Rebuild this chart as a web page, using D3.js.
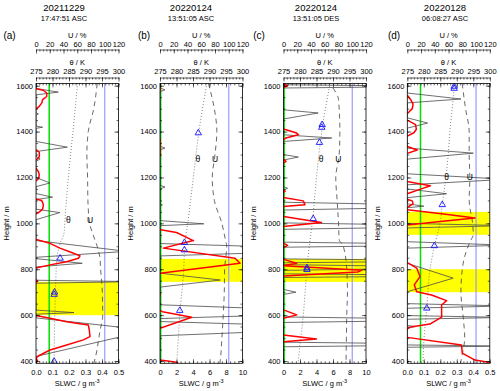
<!DOCTYPE html>
<html>
<head>
<meta charset="utf-8">
<script src="https://cdn.jsdelivr.net/npm/d3@7"></script>
<style>
  body { margin: 0; background: #fff; }
  text { font-family: "Liberation Sans", Arial, sans-serif; fill: #000; }
  .tick line, .domain { stroke: #000; stroke-width: 0.6; }
</style>
</head>
<body>
<script>
// ---- data ----
const dates = ["20211229", "20220124", "20220124", "20220128"];
const times = ["17:47:51 ASC", "13:51:05 ASC", "13:51:05 DES", "06:08:27 ASC"];
const panelNames = ["(a)", "(b)", "(c)", "(d)"];
const slwcMax = [0.5, 10, 10, 0.5];
const slwcTicksSmall = [0, 0.1, 0.2, 0.3, 0.4, 0.5];
const slwcTicksBig = [0, 2, 4, 6, 8, 10];
const uTicks = [0, 20, 40, 60, 80, 100, 120];
const thetaTicks = [275, 280, 285, 290, 295, 300];
const heightTicks = [400, 600, 800, 1000, 1200, 1400, 1600];
const greenSlwc = 0.08; // green threshold line (SLWC)
const blueU = 100;      // blue line, U = 100 %

// yellow bands [bottom, top] in m
const bandsA = [[600, 745]];
const bandsB = [[745, 845]];
const bandsC = [[745, 845]];
const bandsD = [[950, 1050], [700, 800]];

// red SLWC profiles [height, slwc], null = gap
const redA = [[1592,0],[1587,0],[1580,0.044],[1568,0.065],[1553,0.065],[1539,0.04],[1525,0.035],[1510,0.02],[1498,0],[1490,null],
  [1322,0],[1310,0.02],[1290,0.02],[1275,0],[1260,null],
  [1240,0],[1225,0.015],[1210,0.02],[1195,0.015],[1185,0],[1170,null],
  [1106,0],[1100,0.034],[1081,0.045],[1062,0.04],[1047,0.015],[1041,0],[1000,null],
  [930,0],[913,0.085],[892,0.145],[873,0.216],[858,0.267],[848,0.257],[833,0.186],[819,0.085],[805,0],[780,null],
  [755,0],[748,0.01],[742,0],[700,null],
  [598,0],[586,0.085],[571,0.186],[557,0.317],[535,0.323],[506,0.327],[492,0.287],[470,0.186],[448,0.085],[422,0.014],[412,0],[400,0.01],[392,0]];
const redB = [[1610,0],[1575,0],[1500,null],[1370,0],[1290,0],[1200,null],
  [975,0],[972,0.1],[960,2.0],[928,3.85],[925,4.05],[892,0.4],[848,9.1],[826,9.7],[783,0],[750,null],
  [695,0],[685,0],[660,null],
  [620,0],[615,0.3],[591,3.85],[543,0],[500,null],
  [404,0],[395,2.0],[390,2.2]];
const redC = [[1606,0],[1600,0.5],[1592,0],[1500,null],
  [1411,0],[1394,1.6],[1386,1.8],[1372,0.3],[1365,0],[1330,null],
  [1280,0],[1270,0.3],[1262,0],[1200,null],
  [1145,0],[1140,0.2],[1135,0],[1120,null],
  [1113,0],[1098,2.4],[1081,2.6],[1073,0],[1050,null],
  [1030,0],[1004,4.6],[986,0],[950,null],
  [914,0],[904,0.5],[894,0],[870,null],
  [843,0],[826,1.6],[815,0],[796,9.5],[788,9.0],[770,0],[700,null],
  [623,0],[601,1.6],[586,0],[550,null],
  [513,0],[496,4.0],[484,0]];
const redD = [[1558,0],[1540,0.02],[1520,0.035],[1500,0.03],[1485,0.01],[1478,0],[1460,null],
  [1450,0],[1430,0.05],[1410,0.055],[1395,0.04],[1380,0],[1350,null],
  [1335,0],[1320,0.06],[1305,0],[1250,null],
  [1182,0],[1172,0.08],[1164,0.14],[1149,0.08],[1129,0],[1110,null],
  [1105,0],[1098,0.03],[1085,0.035],[1070,0],[1062,null],
  [1059,0],[1042,0.208],[1023,0.41],[1008,0.2],[993,0],[900,null],
  [829,0],[805,0.057],[768,0.077],[732,0.042],[702,0.057],[688,0.147],[663,0.238],[644,0.208],[591,0.208],[561,0.137],[548,0.02],[540,0],[520,null],
  [503,0],[470,0.329],[434,0.333],[404,0.41],[393,0.5],[390,0.52]];

// thin grey profiles [height, value on SLWC axis]
const grayA = [[1610,0],[1588,0],[1572,0.135],[1560,0],[1482,0],[1477,0.015],[1472,0],[1424,0],[1419,0.04],[1414,0],
  [1357,0],[1332,0.19],[1313,0],[1292,0],[1281,0.025],[1270,0],[1200,0],[1176,0.085],[1160,0],[1130,0],[1114,0.1],[1104,0],
  [1062,0],[1047,0.145],[1016,0],[925,0],[878,0.55],[852,0],[846,0],[826,0.28],[810,0],[752,0],[746,0.6],[739,0],
  [622,0],[611,0.23],[604,0],[588,0],[540,0.6],[520,0.6],[420,0],[390,0]];
const grayB = [[1610,0],[1590,0],[1582,0.6],[1574,0],[1336,0],[1328,0.6],[1320,0],[1166,0],[1158,0.6],[1150,0],
  [1085,0],[1080,0.3],[1075,0],[1012,0],[998,5.3],[990,0],[912,0],[885,25],[858,0],[783,0],[753,7.3],[722,0],
  [645,0],[612,25],[585,0],[572,0],[545,25],[510,0],[390,0]];
const grayC = [[1610,0],[1604,0],[1597,20],[1590,0],[1495,0],[1481,4.2],[1455,0],[1386,0],[1372,5.85],[1357,0],
  [1300,0],[1289,1.8],[1276,0],[1160,0],[1153,0.5],[1145,0],[1092,0],[1075,25],[1058,0],[1002,0],[988,25],[974,0],
  [918,0],[907,25],[896,0],[845,0],[837,25],[828,0],[820,0],[808,25],[795,0],[780,0],[772,25],[764,0],
  [712,0],[700,1.5],[690,0],[592,0],[580,25],[568,0],[482,0],[472,25],[462,0],[390,0]];
const grayD = [[1610,0],[1568,0],[1542,0.325],[1525,0],[1460,0],[1437,0.123],[1415,0],[1328,0],[1306,0.4],[1280,0],
  [1216,0],[1192,0.6],[1168,0],[1150,0],[1129,0.238],[1112,0],[1085,0],[1075,0.1],[1068,0],[1000,0],[990,0.6],[980,0],
  [920,0],[905,0.6],[892,0],[826,0],[761,0.278],[702,0],[650,0],[640,0.6],[630,0],[598,0],[590,0.6],[582,0],
  [555,0],[550,0.05],[545,0],[470,0],[465,0.6],[460,0],[390,0]];

// potential temperature [height, K]
const thetaA = [[1610,287.6],[1400,286.2],[1200,284.8],[1000,283.7],[958,283.5],[920,282.5],[850,281.3],[750,281],[600,280.7],[400,280.5],[390,280.5]];
const thetaB = [[1610,289.2],[1400,286.8],[1200,285.1],[1000,283.4],[920,282.6],[880,282.4],[800,282.2],[620,281.1],[400,280.1],[390,280.05]];
const thetaC = [[1610,289.1],[1400,286.6],[1200,285],[1000,283.7],[900,282.8],[800,282.1],[600,281],[400,279.5],[390,279.45]];
const thetaD = [[1610,289.3],[1500,288.6],[1400,287.9],[1300,287.4],[1200,286.7],[1080,285.6],[1000,284.9],[940,283.9],[900,283.2],[800,281.9],[630,280.9],[500,280.1],[400,279.8],[390,279.8]];

// relative humidity [height, %]
const uA = [[1610,89],[1500,84],[1400,76],[1300,74],[1200,75],[1100,75.5],[1000,78],[950,83],[900,89],[850,93],[800,94],[700,96.5],[600,97],[530,93],[400,85],[390,84]];
const uB = [[1610,70.4],[1500,79],[1400,82.7],[1300,80],[1200,76],[1100,79],[1000,90],[930,95],[900,97],[800,94],[700,93.5],[600,92],[500,90],[400,87.5],[390,87]];
const uC = [[1590,72],[1540,80],[1400,82],[1300,81],[1200,76],[1100,78],[1000,80],[930,81],[900,87],[800,92],[700,93],[600,92],[500,91.5],[400,91],[390,91]];
const uD = [[1610,79.8],[1500,84.7],[1400,90],[1300,90],[1200,91],[1100,90],[1000,95],[950,96],[930,93],[900,88.5],[850,83],[800,80],[700,78],[600,81],[500,83.5],[430,80],[400,78],[390,77.5]];

// blue triangles [height, K]
const triA = [[848,282.3],[700,280.6],[690,280.5],[398,280.5]];
const triB = [[1394,286.6],[916,282.4],[884,282.4],[620,281.0]];
const triC = [[1430,286.7],[1418,286.6],[1352,285.9],[1020,284.0],[806,282.1],[798,282.1]];
const triD = [[1597,289.2],[1588,289.2],[1081,285.6],[902,283.2],[630,280.9]];

// where the curve names sit: [height, theta K, U %]
const curveLabelPos = [[1015,284.8,78.5],[1280,286.5,80],[1280,286.4,79.7],[1202,286.9,91]];

// ---- layout ----
const width = 500, height = 391;
const panelLeft = [36, 160, 283.5, 407.3];
const panelW = 82.5;
const plotTop = 83.4, plotBottom = 363.3;
const titleX = [64, 191, 316, 445];
const nameX = [9.5, 144, 259, 394];
const uAxisY = 49.5, thetaAxisY = 77.5;

const panels = [
  { red: redA, gray: grayA, theta: thetaA, u: uA, tri: triA, bands: bandsA },
  { red: redB, gray: grayB, theta: thetaB, u: uB, tri: triB, bands: bandsB },
  { red: redC, gray: grayC, theta: thetaC, u: uC, tri: triC, bands: bandsC },
  { red: redD, gray: grayD, theta: thetaD, u: uD, tri: triD, bands: bandsD },
];

const svg = d3.select("body").append("svg")
  .attr("width", width).attr("height", height);

const y = d3.scaleLinear().domain([390, 1610]).range([plotBottom, plotTop]);

panels.forEach(function (p, i) {
  const x0 = panelLeft[i], x1 = x0 + panelW;
  const xS = d3.scaleLinear().domain([0, slwcMax[i]]).range([x0, x1]);
  const xU = d3.scaleLinear().domain([0, 120]).range([x0, x1]);
  const xT = d3.scaleLinear().domain([275, 300]).range([x0, x1]);
  const small = slwcMax[i] < 1;

  const clipId = "clip" + i;
  svg.append("clipPath").attr("id", clipId)
    .append("rect")
    .attr("x", x0).attr("y", plotTop)
    .attr("width", panelW).attr("height", plotBottom - plotTop);

  const g = svg.append("g").attr("clip-path", "url(#" + clipId + ")");

  g.selectAll(".band").data(p.bands).enter().append("rect")
    .attr("x", x0).attr("width", panelW)
    .attr("y", (d) => y(d[1]))
    .attr("height", (d) => y(d[0]) - y(d[1]))
    .attr("fill", "#ffff00");

  g.append("line")
    .attr("x1", xU(blueU)).attr("x2", xU(blueU))
    .attr("y1", plotTop).attr("y2", plotBottom)
    .attr("stroke", "#9a9aff").attr("stroke-width", 1.2);

  g.append("line")
    .attr("x1", xS(greenSlwc)).attr("x2", xS(greenSlwc))
    .attr("y1", plotTop).attr("y2", plotBottom)
    .attr("stroke", "#00e000").attr("stroke-width", 1.5);

  g.append("path").datum(p.gray)
    .attr("fill", "none").attr("stroke", "#4a4a4a").attr("stroke-width", 0.8)
    .attr("d", d3.line().x((d) => xS(d[1])).y((d) => y(d[0])));

  g.append("path").datum(p.theta)
    .attr("fill", "none").attr("stroke", "#444").attr("stroke-width", 0.8)
    .attr("stroke-dasharray", "0.8,2.2")
    .attr("d", d3.line().curve(d3.curveMonotoneY).x((d) => xT(d[1])).y((d) => y(d[0])));

  g.append("path").datum(p.u)
    .attr("fill", "none").attr("stroke", "#444").attr("stroke-width", 0.8)
    .attr("stroke-dasharray", "5,4")
    .attr("d", d3.line().curve(d3.curveMonotoneY).x((d) => xU(d[1])).y((d) => y(d[0])));

  g.append("path").datum(p.red)
    .attr("fill", "none").attr("stroke", "#ff0000").attr("stroke-width", 1.5)
    .attr("stroke-linejoin", "round")
    .attr("d", d3.line().defined((d) => d[1] != null).x((d) => xS(d[1])).y((d) => y(d[0])));

  g.selectAll(".tri").data(p.tri).enter().append("path")
    .attr("transform", (d) => "translate(" + xT(d[1]) + "," + y(d[0]) + ")")
    .attr("d", d3.symbol().type(d3.symbolTriangle).size(18))
    .attr("fill", "none").attr("stroke", "#1414ff").attr("stroke-width", 0.9);

  const lp = curveLabelPos[i];
  svg.append("text").attr("x", xT(lp[1])).attr("y", y(lp[0]) + 3)
    .attr("text-anchor", "middle").attr("font-size", 8.5).text("θ");
  svg.append("text").attr("x", xU(lp[2])).attr("y", y(lp[0]) + 3)
    .attr("text-anchor", "middle").attr("font-size", 8.5).text("U");

  // frame
  svg.append("rect")
    .attr("x", x0).attr("y", plotTop).attr("width", panelW).attr("height", plotBottom - plotTop)
    .attr("fill", "none").attr("stroke", "#000").attr("stroke-width", 0.8);

  const sMajor = small ? slwcTicksSmall : slwcTicksBig;
  const sMinor = small ? d3.range(0, 0.5001, 0.02) : d3.range(0, 10.01, 0.5);
  const hMinor = d3.range(400, 1601, 50);

  // bottom axis
  const gb = svg.append("g").attr("transform", "translate(0," + plotBottom + ")");
  gb.call(d3.axisBottom(xS).tickValues(sMajor).tickSize(-4).tickSizeOuter(0).tickPadding(6)
    .tickFormat(small ? d3.format(".1f") : d3.format("d")));
  gb.append("g").call(d3.axisBottom(xS).tickValues(sMinor).tickSize(-2).tickFormat(""))
    .select(".domain").remove();
  gb.selectAll("text").attr("font-size", 7.5);
  gb.select(".domain").remove();

  // top frame ticks
  const gt = svg.append("g").attr("transform", "translate(0," + plotTop + ")");
  gt.call(d3.axisTop(xS).tickValues(sMajor).tickSize(-4).tickFormat(""));
  gt.append("g").call(d3.axisTop(xS).tickValues(sMinor).tickSize(-2).tickFormat(""));
  gt.selectAll(".domain").remove();

  // left axis
  const gl = svg.append("g").attr("transform", "translate(" + x0 + ",0)");
  gl.call(d3.axisLeft(y).tickValues(heightTicks).tickSize(-4).tickSizeOuter(0).tickPadding(3)
    .tickFormat(d3.format("d")));
  gl.append("g").call(d3.axisLeft(y).tickValues(hMinor).tickSize(-2).tickFormat(""));
  gl.selectAll(".domain").remove();
  gl.selectAll("text").attr("font-size", 7.5);

  // right axis
  const gr = svg.append("g").attr("transform", "translate(" + x1 + ",0)");
  gr.call(d3.axisRight(y).tickValues(heightTicks).tickSize(-4).tickFormat(""));
  gr.append("g").call(d3.axisRight(y).tickValues(hMinor).tickSize(-2).tickFormat(""));
  gr.selectAll(".domain").remove();

  // U axis on top
  const gu = svg.append("g").attr("transform", "translate(0," + uAxisY + ")");
  gu.call(d3.axisTop(xU).tickValues(uTicks).tickSize(-4).tickSizeOuter(0).tickPadding(3));
  gu.append("g").call(d3.axisTop(xU).tickValues(d3.range(0, 121, 5)).tickSize(-2).tickFormat(""))
    .select(".domain").remove();
  gu.selectAll("text").attr("font-size", 7.5);

  // theta axis
  const gth = svg.append("g").attr("transform", "translate(0," + thetaAxisY + ")");
  gth.call(d3.axisTop(xT).tickValues(thetaTicks).tickSize(-4).tickSizeOuter(0).tickPadding(4));
  gth.append("g").call(d3.axisTop(xT).tickValues(d3.range(275, 300.1, 1)).tickSize(-2).tickFormat(""))
    .select(".domain").remove();
  gth.selectAll("text").attr("font-size", 7.5);

  const cx = (x0 + x1) / 2;
  svg.append("text").attr("x", cx).attr("y", 37.5).attr("text-anchor", "middle")
    .attr("font-size", 7.5).text("U / %");
  svg.append("text").attr("x", cx).attr("y", 64.5).attr("text-anchor", "middle")
    .attr("font-size", 7.5).text("θ / K");

  const xl = svg.append("text").attr("x", cx).attr("y", 385.5).attr("text-anchor", "middle")
    .attr("font-size", 7.5);
  xl.append("tspan").text("SLWC / g m");
  xl.append("tspan").attr("dy", -3).attr("font-size", 5.5).text("-3");

  svg.append("text")
    .attr("transform", "translate(" + (x0 - 27.5) + "," + y(1000) + ") rotate(-90)")
    .attr("text-anchor", "middle").attr("font-size", 7.5).text("Height / m");

  svg.append("text").attr("x", titleX[i]).attr("y", 11).attr("text-anchor", "middle")
    .attr("font-size", 9.5).text(dates[i]);
  svg.append("text").attr("x", titleX[i]).attr("y", 21).attr("text-anchor", "middle")
    .attr("font-size", 7.5).text(times[i]);
  svg.append("text").attr("x", nameX[i]).attr("y", 39).attr("text-anchor", "middle")
    .attr("font-size", 10).text(panelNames[i]);
});
</script>
</body>
</html>
